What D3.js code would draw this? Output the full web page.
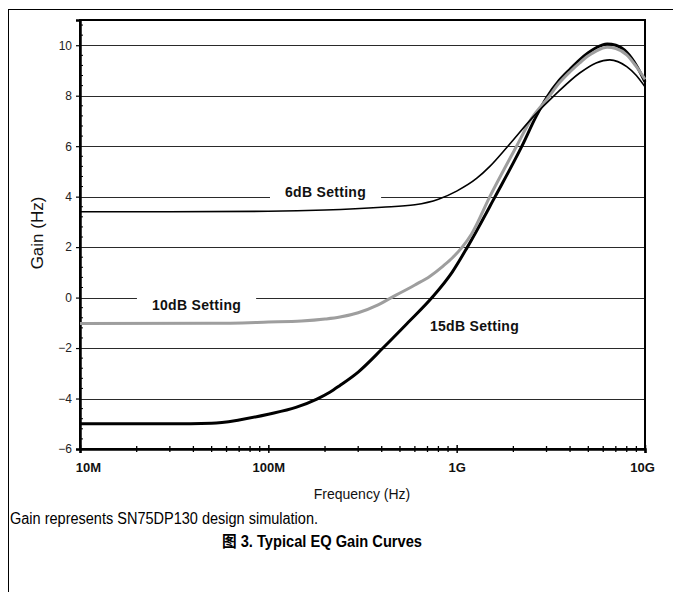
<!DOCTYPE html>
<html>
<head>
<meta charset="utf-8">
<script src="https://cdn.jsdelivr.net/npm/d3@7"></script>
<style>
  html, body { margin: 0; padding: 0; background: #fff; }
  svg { display: block; }
</style>
</head>
<body>
<svg id="chart" width="673" height="592"></svg>
<script>
// ---------- data ----------
const freq6 = [1e7, 3e7, 1e8, 2e8, 4e8, 6e8, 8e8, 1e9, 1.28e9, 1.5e9, 1.88e9, 2.54e9, 3.4e9, 4.5e9, 5.5e9, 6.5e9, 8e9, 9e9, 1e10];
const gain6 = [3.40, 3.40, 3.42, 3.47, 3.58, 3.68, 3.90, 4.22, 4.73, 5.20, 6.02, 7.15, 8.10, 8.90, 9.30, 9.42, 9.15, 8.80, 8.35];

const freq10 = [1e7, 5e7, 1e8, 1.5e8, 2e8, 2.4e8, 3e8, 3.8e8, 4.5e8, 5e8, 6e8, 7.22e8, 8.5e8, 9.5e8, 1.07e9, 1.2e9, 1.5e9, 2.08e9, 2.5e9, 3.06e9, 3.5e9, 4e9, 4.5e9, 5e9, 5.5e9, 6.3e9, 7e9, 8e9, 9e9, 1e10];
const gain10 = [-1.03, -1.02, -0.97, -0.93, -0.85, -0.77, -0.6, -0.3, 0.0, 0.18, 0.5, 0.85, 1.26, 1.58, 2.0, 2.52, 4.0, 6.0, 7.1, 7.92, 8.5, 8.95, 9.3, 9.58, 9.77, 9.92, 9.87, 9.62, 9.15, 8.65];

const freq15 = [1e7, 3e7, 5e7, 7e7, 1e8, 1.4e8, 1.81e8, 2.12e8, 2.4e8, 3e8, 4.06e8, 5.5e8, 7.4e8, 9.45e8, 1.14e9, 1.6e9, 2.22e9, 2.65e9, 3.02e9, 3.5e9, 4e9, 4.5e9, 5e9, 5.5e9, 6.3e9, 7e9, 8e9, 9e9, 1e10];
const gain15 = [-5.0, -5.0, -4.98, -4.85, -4.62, -4.35, -4.02, -3.75, -3.48, -2.95, -2.0, -1.0, 0.0, 1.0, 2.0, 4.0, 6.0, 7.2, 7.95, 8.6, 9.05, 9.42, 9.7, 9.9, 10.05, 10.0, 9.72, 9.2, 8.55];

const xTickValues = [1e7, 1e8, 1e9, 1e10];
const xTickLabels = ["10M", "100M", "1G", "10G"];
const yTickValues = [-6, -4, -2, 0, 2, 4, 6, 8, 10];
const yGridValues = [-4, -2, 0, 2, 4, 6, 8, 10];

const labelTexts = ["6dB Setting", "10dB Setting", "15dB Setting"];
const labelFreqs = [1.226e8, 2.41e7, 7.21e8];   // left edge of text
const labelGains = [3.98, -0.5, -1.33];          // baseline

const xTitle = "Frequency (Hz)";
const yTitle = "Gain (Hz)";
const note = "Gain represents SN75DP130 design simulation.";
const figTitle = "图 3. Typical EQ Gain Curves";

// ---------- layout ----------
const svg = d3.select("#chart");
const L = 80, R = 645, T = 20, B = 449;
const x = d3.scaleLog().domain([1e7, 1e10]).range([L, R]);
const y = d3.scaleLinear().domain([-6, 11]).range([B, T]);
const FONT = "'Liberation Sans', Arial, 'Noto Sans CJK SC', sans-serif";

// outer frame lines
svg.append("line").attr("x1", 8).attr("x2", 673).attr("y1", 9.5).attr("y2", 9.5).attr("stroke", "#000").attr("stroke-width", 1);
svg.append("line").attr("x1", 8.5).attr("x2", 8.5).attr("y1", 9).attr("y2", 592).attr("stroke", "#000").attr("stroke-width", 1);

// gridlines
svg.append("g").selectAll("line").data(yGridValues).join("line")
  .attr("x1", L).attr("x2", R)
  .attr("y1", d => Math.round(y(d)) + 0.5).attr("y2", d => Math.round(y(d)) + 0.5)
  .attr("stroke", "#2a2a2a").attr("stroke-width", 1);

// setting labels; the first two sit on gridlines inside white boxes
const gLab = svg.append("g");
labelTexts.forEach((t, i) => {
  const tx = gLab.append("text")
    .attr("x", x(labelFreqs[i])).attr("y", y(labelGains[i]))
    .attr("font-family", FONT).attr("font-weight", "bold").attr("font-size", 14)
    .attr("letter-spacing", 0.3)
    .attr("fill", "#111").text(t);
  if (i < 2) {
    const bb = tx.node().getBBox();
    gLab.insert("rect", "text")
      .attr("x", bb.x - 15).attr("y", bb.y - 3)
      .attr("width", bb.width + 30).attr("height", bb.height + 5)
      .attr("fill", "#fff");
  }
});

// plot frame
svg.append("rect").attr("x", L).attr("y", T).attr("width", R - L).attr("height", B - T)
  .attr("fill", "none").attr("stroke", "#000").attr("stroke-width", 2);

// y axis (left) with outward major ticks and inward minor ticks
const yAxis = d3.axisLeft(y).tickValues(yTickValues).tickSize(4).tickPadding(4).tickFormat(d3.format("d"));
const gy = svg.append("g").attr("transform", `translate(${L},0)`).call(yAxis);
gy.select(".domain").attr("stroke", "#000").attr("stroke-width", 2.5);
gy.selectAll(".tick line").attr("stroke", "#000").attr("stroke-width", 1.2);
gy.selectAll(".tick text").attr("font-family", FONT).attr("font-size", 12).attr("fill", "#222");
const yMinor = d3.range(-6, 11.01, 0.4).filter(v => Math.abs(v / 2 - Math.round(v / 2)) > 1e-6);
svg.append("g").selectAll("line").data(yMinor).join("line")
  .attr("x1", L).attr("x2", L + 3)
  .attr("y1", d => y(d)).attr("y2", d => y(d))
  .attr("stroke", "#000").attr("stroke-width", 1);

// x axis (bottom)
const xAxis = d3.axisBottom(x).tickValues(xTickValues).tickSize(4).tickPadding(10)
  .tickFormat((d, i) => xTickLabels[i]);
const gx = svg.append("g").attr("transform", `translate(0,${B})`).call(xAxis);
gx.select(".domain").attr("stroke", "#000").attr("stroke-width", 2.5);
gx.selectAll(".tick line").attr("y1", -4).attr("stroke", "#000").attr("stroke-width", 1.5);
gx.selectAll(".tick text").attr("font-family", FONT).attr("font-size", 13).attr("font-weight", "bold").attr("fill", "#111");
gx.selectAll(".tick text").filter((d, i) => i === 0).attr("dx", 8);
gx.selectAll(".tick text").filter((d, i) => i === 3).attr("dx", -3);
const xMinor = [];
[1e7, 1e8, 1e9].forEach(dec => { for (let k = 2; k <= 9; k++) xMinor.push(dec * k); });
svg.append("g").selectAll("line").data(xMinor).join("line")
  .attr("x1", d => x(d)).attr("x2", d => x(d))
  .attr("y1", B - 3).attr("y2", B + 3)
  .attr("stroke", "#000").attr("stroke-width", 1.3);

// curves
const line = d3.line().x(d => x(d[0])).y(d => y(d[1])).curve(d3.curveMonotoneX);
const zip = (a, b) => a.map((v, i) => [v, b[i]]);
svg.append("path").datum(zip(freq15, gain15)).attr("d", line)
  .attr("fill", "none").attr("stroke", "#000").attr("stroke-width", 3);
svg.append("path").datum(zip(freq10, gain10)).attr("d", line)
  .attr("fill", "none").attr("stroke", "#9e9e9e").attr("stroke-width", 3);
svg.append("path").datum(zip(freq6, gain6)).attr("d", line)
  .attr("fill", "none").attr("stroke", "#000").attr("stroke-width", 1.6);

// axis titles
svg.append("text").attr("x", 362).attr("y", 499).attr("text-anchor", "middle")
  .attr("font-family", FONT).attr("font-size", 14).attr("fill", "#111").text(xTitle);
svg.append("text").attr("transform", "translate(43,233) rotate(-90)").attr("text-anchor", "middle")
  .attr("font-family", FONT).attr("font-size", 17).attr("fill", "#111").text(yTitle);

// captions
svg.append("text").attr("x", 10).attr("y", 524)
  .attr("font-family", FONT).attr("font-size", 16).attr("fill", "#000")
  .attr("textLength", 308).attr("lengthAdjust", "spacingAndGlyphs").text(note);
svg.append("text").attr("x", 222).attr("y", 547)
  .attr("font-family", FONT).attr("font-size", 16).attr("font-weight", "bold").attr("fill", "#000")
  .attr("textLength", 200).attr("lengthAdjust", "spacingAndGlyphs").text(figTitle);
</script>
</body>
</html>
